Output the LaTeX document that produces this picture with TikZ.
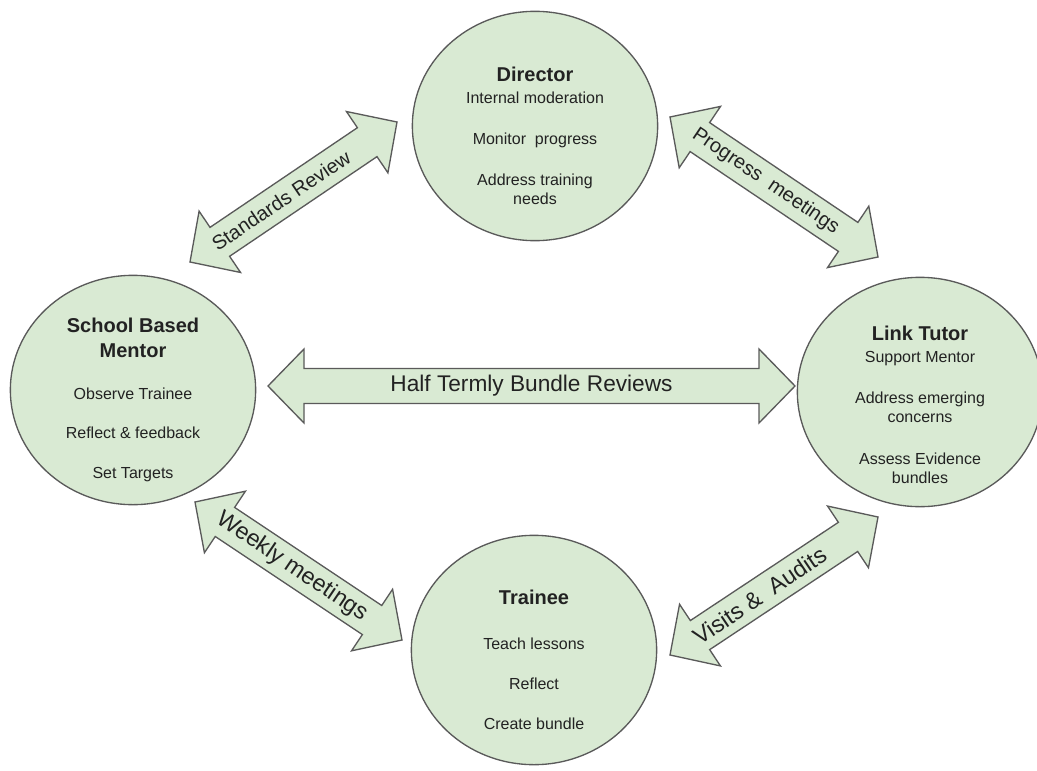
\documentclass[tikz,border=0pt]{standalone}
\usepackage{fontspec}
\setmainfont{Liberation Sans}
\usetikzlibrary{shapes.geometric,calc}

\definecolor{sagefill}{HTML}{D9EAD3}
\definecolor{rimgray}{HTML}{5A5A5A}
\definecolor{inkdark}{HTML}{222222}

% double headed block arrow from #1 to #2
\newcommand\blockarrow[2]{%
  \draw[arrowbody] (#1)
    -- ($($(#1)!27pt!(#2)$)!27.75pt!90:(#2)$)
    -- ($($(#1)!27pt!(#2)$)!13.1pt!90:(#2)$)
    -- ($($(#2)!27pt!(#1)$)!13.1pt!-90:(#1)$)
    -- ($($(#2)!27pt!(#1)$)!27.75pt!-90:(#1)$)
    -- (#2)
    -- ($($(#2)!27pt!(#1)$)!27.75pt!90:(#1)$)
    -- ($($(#2)!27pt!(#1)$)!13.1pt!90:(#1)$)
    -- ($($(#1)!27pt!(#2)$)!13.1pt!-90:(#2)$)
    -- ($($(#1)!27pt!(#2)$)!27.75pt!-90:(#2)$)
    -- cycle;}

\begin{document}
\begin{tikzpicture}[x=0.75pt, y=-0.75pt,
    role/.style={ellipse, draw=rimgray, fill=sagefill, line width=1pt,
        minimum width=184pt, minimum height=172pt, inner sep=0pt},
    roletext/.style={align=center, text=inkdark, inner sep=0pt,
        font=\fontsize{12}{14.5}\selectfont},
    arrowbody/.style={draw=rimgray, fill=sagefill, line width=1pt},
    linktext/.style={text=inkdark, inner sep=0pt, font=\fontsize{15}{18}\selectfont},
    biglinktext/.style={linktext, font=\fontsize{17.5}{20}\selectfont}]

    % frame of the page
    \useasboundingbox (0,0) rectangle (1037,770);

    %----------------------
    % ROLES (four circles)
    %----------------------
    % Director at the top
    \node[role] (director) at (535,126) {};
    \node[roletext] (director-text) at ([yshift=-7.5pt]director.center) {%
        {\bfseries\fontsize{15}{18}\selectfont Director}\\[2pt]
        Internal moderation\\[16pt]
        Monitor\ \ progress\\[16pt]
        Address training\\
        needs};

    % School based mentor on the left
    \node[role] (mentor) at (133,390) {};
    \node[roletext] (mentor-text) at ([yshift=-7.5pt]mentor.center) {%
        {\bfseries\fontsize{15}{18}\selectfont School Based}\\[4pt]
        {\bfseries\fontsize{15}{18}\selectfont Mentor}\\[17pt]
        Observe Trainee\\[15pt]
        Reflect \& feedback\\[15pt]
        Set Targets};

    % Link tutor on the right
    \node[role] (tutor) at (920,392) {};
    \node[roletext] (tutor-text) at ([yshift=-9.75pt]tutor.center) {%
        {\bfseries\fontsize{15}{18}\selectfont Link Tutor}\\[2pt]
        Support Mentor\\[16pt]
        Address emerging\\
        concerns\\[17pt]
        Assess Evidence\\
        bundles};

    % Trainee at the bottom
    \node[role] (trainee) at (534,650) {};
    \node[roletext] (trainee-text) at ([yshift=-7.5pt]trainee.center) {%
        {\bfseries\fontsize{15}{18}\selectfont Trainee}\\[19pt]
        Teach lessons\\[15.5pt]
        Reflect\\[16pt]
        Create bundle};

    %----------------------
    % BLOCK ARROWS between the roles
    %----------------------
    % end points of the arrows (tips)
    \coordinate (sr-a) at (190,262);
    \coordinate (sr-b) at (397,122);
    \coordinate (pm-a) at (670,117);
    \coordinate (pm-b) at (878,257);
    \coordinate (hb-a) at (268,386);
    \coordinate (hb-b) at (795,386);
    \coordinate (wm-a) at (195,502);
    \coordinate (wm-b) at (402,640);
    \coordinate (va-a) at (670,655);
    \coordinate (va-b) at (878,517);

    % mentor <-> director
    \blockarrow{sr-a}{sr-b}
    \node[linktext, rotate=34] (standards) at ($(sr-a)!0.44!(sr-b)$) {Standards Review};

    % director <-> tutor
    \blockarrow{pm-a}{pm-b}
    \node[linktext, rotate=-34] (progress) at ($(pm-a)!0.46!(pm-b)$) {Progress\ \ meetings};

    % mentor <-> tutor, straight across
    \blockarrow{hb-a}{hb-b}
    \node[linktext, font=\fontsize{17}{20}\selectfont] (bundles) at ($(hb-a)!0.5!(hb-b)$)
        {Half Termly Bundle Reviews};

    % mentor <-> trainee
    \blockarrow{wm-a}{wm-b}
    \node[biglinktext, rotate=-34] (weekly) at ($(wm-a)!0.47!(wm-b)$) {Weekly meetings};

    % trainee <-> tutor
    \blockarrow{va-a}{va-b}
    \node[biglinktext, rotate=34] (visits) at ($(va-a)!0.43!(va-b)$) {Visits \&\ \ Audits};

\end{tikzpicture}
\end{document}
